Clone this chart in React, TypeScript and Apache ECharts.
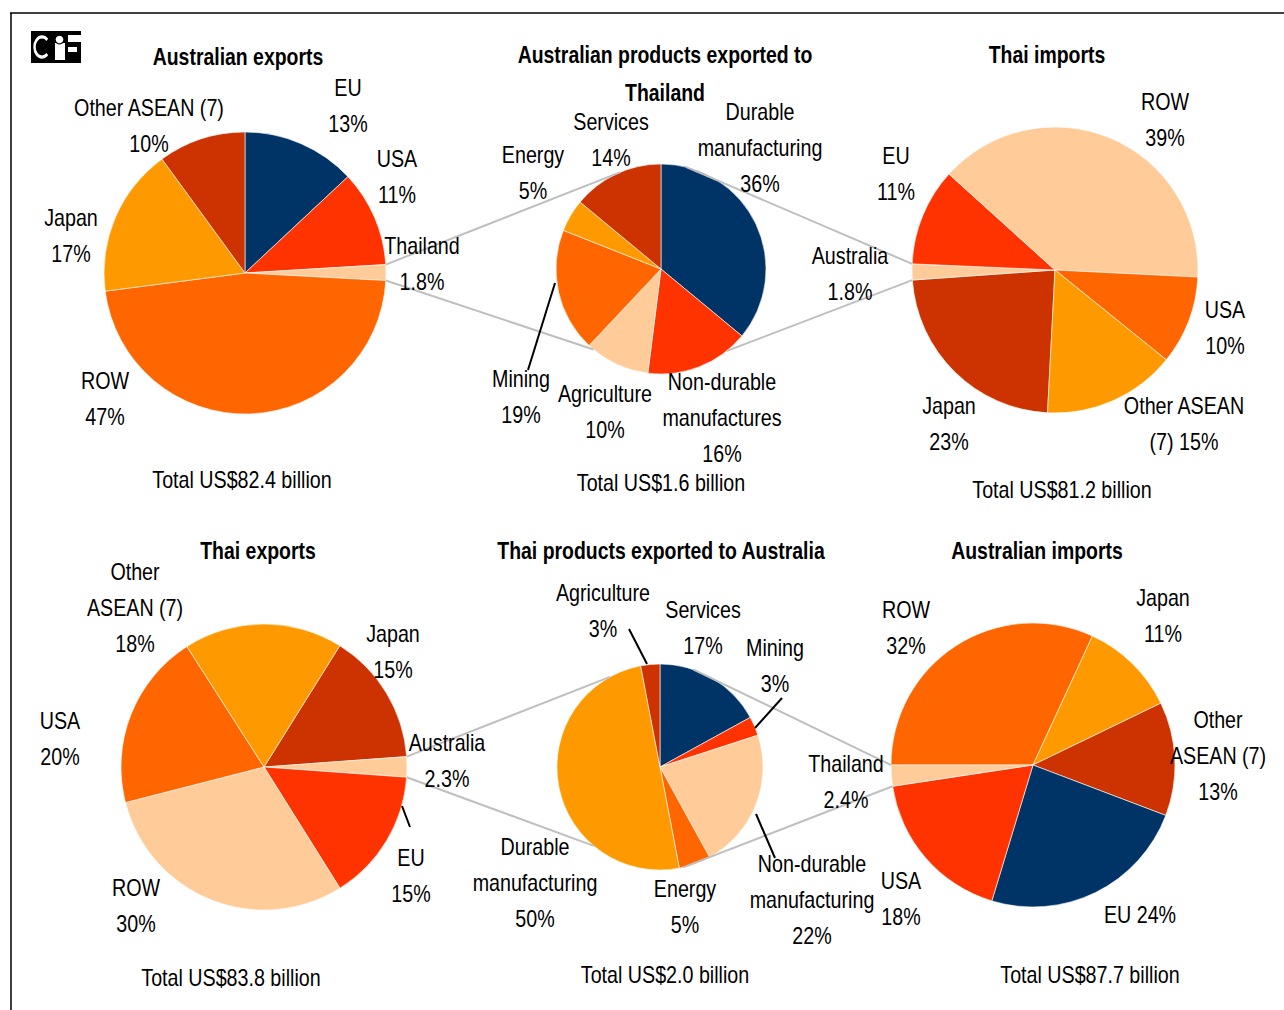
import React, { useEffect, useRef } from "react";
import * as echarts from "echarts";

// ---- Data (shares in per cent) ----
// Australian exports by destination
const ausExportNames = ["EU", "USA", "Thailand", "ROW", "Japan", "Other ASEAN (7)"];
const ausExportShares = [13, 11, 1.8, 47, 17, 10];

// Australian products exported to Thailand
const ausToThaiNames = ["Durable\nmanufacturing", "Non-durable\nmanufactures", "Agriculture", "Mining", "Energy", "Services"];
const ausToThaiShares = [36, 16, 10, 19, 5, 14];

// Thai imports by source
const thaiImportNames = ["Japan", "Australia", "EU", "ROW", "USA", "Other ASEAN\n(7)"];
const thaiImportShares = [23, 1.8, 11, 39, 10, 15];

// Thai exports by destination
const thaiExportNames = ["Japan", "Australia", "EU", "ROW", "USA", "Other\nASEAN (7)"];
const thaiExportShares = [15, 2.3, 15, 30, 20, 18];

// Thai products exported to Australia
const thaiToAusNames = ["Services", "Mining", "Non-durable\nmanufacturing", "Energy", "Durable\nmanufacturing", "Agriculture"];
const thaiToAusShares = [17, 3, 22, 5, 50, 3];

// Australian imports by source
const ausImportNames = ["ROW", "Japan", "Other\nASEAN (7)", "EU", "USA", "Thailand"];
const ausImportShares = [32, 11, 13, 24, 18, 2.4];

const pieTitles = [
  "Australian exports",
  "Australian products exported to\nThailand",
  "Thai imports",
  "Thai exports",
  "Thai products exported to Australia",
  "Australian imports",
];

const pieTotals = [
  "Total US$82.4 billion",
  "Total US$1.6 billion",
  "Total US$81.2 billion",
  "Total US$83.8 billion",
  "Total US$2.0 billion",
  "Total US$87.7 billion",
];

// ---- Styling ----
const NAVY = "#003366";
const RED = "#FF3300";
const PEACH = "#FFCC99";
const ORANGE = "#FF6600";
const AMBER = "#FF9900";
const RUST = "#CC3300";

// Liberation Sans squeezed horizontally gives a narrow sans face
const FONT_FAMILY = "'Liberation Sans', Arial, sans-serif";
const FONT_SIZE = 23;
const NARROW = 0.856;
const NARROW_BOLD = 0.845;
const LINE_H = 36;
const CONNECTOR = "#BFBFBF";

type LabelPos = { x: number; y: number; sep?: string };
type PieSpec = {
  names: string[];
  values: number[];
  colors: string[];
  cx: number;
  cy: number;
  r: number;
  startClock: number; // degrees clockwise from 12 o'clock
  title: string;
  titlePos: [number, number];
  total: string;
  totalPos: [number, number];
  labels: LabelPos[];
};

const pies: PieSpec[] = [
  {
    names: ausExportNames,
    values: ausExportShares,
    colors: [NAVY, RED, PEACH, ORANGE, AMBER, RUST],
    cx: 245, cy: 273, r: 141, startClock: 0,
    title: pieTitles[0], titlePos: [238, 57],
    total: pieTotals[0], totalPos: [242, 480],
    labels: [
      { x: 348, y: 106.5 },
      { x: 397, y: 177 },
      { x: 422, y: 264.5 },
      { x: 105, y: 399.5 },
      { x: 71, y: 236.5 },
      { x: 149, y: 126 },
    ],
  },
  {
    names: ausToThaiNames,
    values: ausToThaiShares,
    colors: [NAVY, RED, PEACH, ORANGE, AMBER, RUST],
    cx: 661, cy: 269, r: 105, startClock: 0,
    title: pieTitles[1], titlePos: [665, 74],
    total: pieTotals[1], totalPos: [661, 483],
    labels: [
      { x: 760, y: 148.5 },
      { x: 722, y: 418 },
      { x: 605, y: 412 },
      { x: 521, y: 397 },
      { x: 533, y: 173 },
      { x: 611, y: 140 },
    ],
  },
  {
    names: thaiImportNames,
    values: thaiImportShares,
    colors: [RUST, PEACH, RED, PEACH, ORANGE, AMBER],
    cx: 1055, cy: 270, r: 143, startClock: 183,
    title: pieTitles[2], titlePos: [1047, 55],
    total: pieTotals[2], totalPos: [1062, 490],
    labels: [
      { x: 949, y: 424 },
      { x: 850, y: 274.5 },
      { x: 896, y: 174.5 },
      { x: 1165, y: 120.5 },
      { x: 1225, y: 328 },
      { x: 1184, y: 424, sep: " " },
    ],
  },
  {
    names: thaiExportNames,
    values: thaiExportShares,
    colors: [RUST, PEACH, RED, PEACH, ORANGE, AMBER],
    cx: 264, cy: 767, r: 143, startClock: 32,
    title: pieTitles[3], titlePos: [258, 551],
    total: pieTotals[3], totalPos: [231, 978],
    labels: [
      { x: 393, y: 652 },
      { x: 447, y: 761.5 },
      { x: 411, y: 876 },
      { x: 136, y: 906 },
      { x: 60, y: 739 },
      { x: 135, y: 608 },
    ],
  },
  {
    names: thaiToAusNames,
    values: thaiToAusShares,
    colors: [NAVY, RED, PEACH, ORANGE, AMBER, RUST],
    cx: 660, cy: 767, r: 103, startClock: 0,
    title: pieTitles[4], titlePos: [661, 551],
    total: pieTotals[4], totalPos: [665, 975],
    labels: [
      { x: 703, y: 628 },
      { x: 775, y: 666 },
      { x: 812, y: 900.5 },
      { x: 685, y: 907.5 },
      { x: 535, y: 883.5 },
      { x: 603, y: 611.5 },
    ],
  },
  {
    names: ausImportNames,
    values: ausImportShares,
    colors: [ORANGE, AMBER, RUST, NAVY, RED, PEACH],
    cx: 1033, cy: 765, r: 142, startClock: 270,
    title: pieTitles[5], titlePos: [1037, 551],
    total: pieTotals[5], totalPos: [1090, 975],
    labels: [
      { x: 906, y: 628 },
      { x: 1163, y: 616.5 },
      { x: 1218, y: 756 },
      { x: 1140, y: 915, sep: " " },
      { x: 901, y: 899 },
      { x: 846, y: 782.5 },
    ],
  },
];

// Black leader lines for the labels that sit away from their slice
const leaderLines: [number, number, number, number][] = [
  [555, 283, 528, 370],
  [402, 806, 410, 827],
  [629, 629, 647, 664],
  [782, 698, 755, 728],
  [756, 814, 775, 858],
];

// Angle (clockwise from 12 o'clock) of the two edges of slice i
function sliceEdges(p: PieSpec, i: number): [number, number] {
  const sum = p.values.reduce((a, b) => a + b, 0);
  let acc = 0;
  for (let k = 0; k < i; k++) acc += p.values[k];
  const a0 = p.startClock + (acc / sum) * 360;
  const a1 = a0 + (p.values[i] / sum) * 360;
  return [a0, a1];
}

function rimPoint(p: PieSpec, clockDeg: number): [number, number] {
  const t = (clockDeg * Math.PI) / 180;
  return [p.cx + p.r * Math.sin(t), p.cy - p.r * Math.cos(t)];
}

function connector(from: [number, number], to: [number, number]) {
  return {
    type: "line",
    z: 20,
    silent: true,
    shape: { x1: from[0], y1: from[1], x2: to[0], y2: to[1] },
    style: { stroke: CONNECTOR, lineWidth: 2 },
  };
}

function textEl(text: string, x: number, y: number, bold = false) {
  return {
    type: "text",
    z: 30,
    silent: true,
    x,
    y,
    scaleX: bold ? NARROW_BOLD : NARROW,
    style: {
      text,
      fill: "#000",
      font: `${bold ? "bold " : ""}${FONT_SIZE}px ${FONT_FAMILY}`,
      lineHeight: LINE_H + (bold ? 2 : 0),
      align: "center",
      verticalAlign: "middle",
    },
  };
}

function buildOption() {
  const series = pies.map((p) => ({
    type: "pie",
    center: [p.cx, p.cy],
    radius: p.r,
    startAngle: 90 - p.startClock,
    clockwise: true,
    silent: true,
    avoidLabelOverlap: false,
    label: { show: false },
    labelLine: { show: false },
    emphasis: { disabled: true },
    itemStyle: { borderColor: "#ffffff", borderWidth: 0.6 },
    data: p.names.map((n, i) => ({ name: n, value: p.values[i], itemStyle: { color: p.colors[i] } })),
  }));

  const graphics: any[] = [];

  // outer frame (top and left rules)
  graphics.push({ type: "line", silent: true, shape: { x1: 10, y1: 13, x2: 1284, y2: 13 }, style: { stroke: "#000", lineWidth: 1.5 } });
  graphics.push({ type: "line", silent: true, shape: { x1: 11, y1: 13, x2: 11, y2: 1010 }, style: { stroke: "#000", lineWidth: 1.5 } });

  // logo
  graphics.push({
    type: "group",
    silent: true,
    children: [
      { type: "rect", shape: { x: 31, y: 31, width: 50, height: 32 }, style: { fill: "#000" } },
      {
        type: "arc",
        x: 42,
        y: 47,
        scaleY: 1.35,
        shape: { cx: 0, cy: 0, r: 7.5, startAngle: Math.PI / 4, endAngle: (7 * Math.PI) / 4, clockwise: true },
        style: { stroke: "#fff", lineWidth: 2.5, fill: null },
      },
      { type: "rect", shape: { x: 55, y: 43, width: 10, height: 17 }, style: { fill: "#fff" } },
      { type: "circle", shape: { cx: 59.5, cy: 39.5, r: 5 }, style: { fill: "#000" } },
      { type: "circle", shape: { cx: 59.5, cy: 39.5, r: 3.8 }, style: { fill: "#fff" } },
      { type: "rect", shape: { x: 68, y: 35, width: 13, height: 7 }, style: { fill: "#fff" } },
      { type: "rect", shape: { x: 68, y: 47, width: 9, height: 5 }, style: { fill: "#fff" } },
    ],
  });

  // connectors between the highlighted slices and the product pies
  const [p1, p2, p3, p4, p5, p6] = pies;
  const th1 = sliceEdges(p1, 2);
  graphics.push(connector(rimPoint(p1, th1[0]), rimPoint(p2, 337)));
  graphics.push(connector(rimPoint(p1, th1[1]), rimPoint(p2, 220)));
  const au3 = sliceEdges(p3, 1);
  graphics.push(connector(rimPoint(p2, 14), rimPoint(p3, au3[1])));
  graphics.push(connector(rimPoint(p2, 141.5), rimPoint(p3, au3[0])));
  const au4 = sliceEdges(p4, 1);
  graphics.push(connector(rimPoint(p4, au4[0]), rimPoint(p5, 331)));
  graphics.push(connector(rimPoint(p4, au4[1]), rimPoint(p5, 220)));
  const th6 = sliceEdges(p6, 5);
  graphics.push(connector(rimPoint(p5, 19), rimPoint(p6, th6[1])));
  graphics.push(connector(rimPoint(p5, 167), rimPoint(p6, th6[0])));

  // leader lines
  leaderLines.forEach(([x1, y1, x2, y2]) =>
    graphics.push({ type: "line", z: 25, silent: true, shape: { x1, y1, x2, y2 }, style: { stroke: "#000", lineWidth: 2 } })
  );

  // titles, totals and slice labels
  pies.forEach((p) => {
    graphics.push(textEl(p.title, p.titlePos[0], p.titlePos[1], true));
    graphics.push(textEl(p.total, p.totalPos[0], p.totalPos[1]));
    p.labels.forEach((l, i) => {
      graphics.push(textEl(`${p.names[i]}${l.sep ?? "\n"}${p.values[i]}%`, l.x, l.y));
    });
  });

  return { animation: false, backgroundColor: "#ffffff", series, graphic: graphics };
}

export default function App() {
  const ref = useRef<HTMLDivElement>(null);
  useEffect(() => {
    document.body.style.margin = "0";
    const chart = echarts.init(ref.current!, null, { renderer: "svg" });
    chart.setOption(buildOption() as any);
    return () => chart.dispose();
  }, []);
  return <div ref={ref} style={{ width: 1284, height: 1010 }} />;
}
